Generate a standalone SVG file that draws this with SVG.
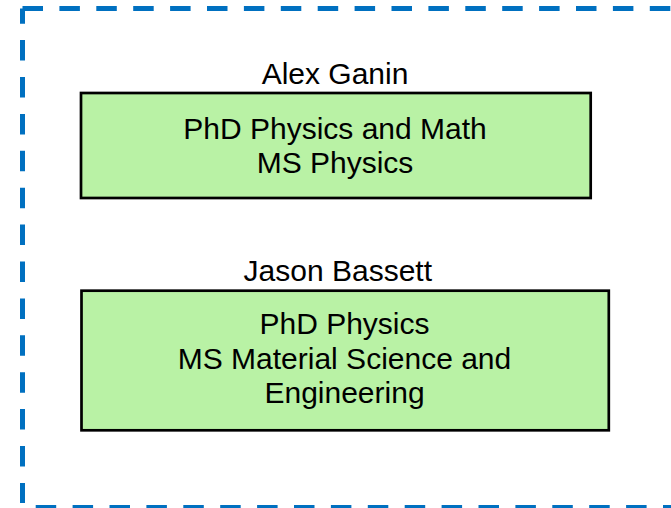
<svg xmlns="http://www.w3.org/2000/svg" width="671" height="508" viewBox="0 0 671 508">
  <style>
    .frame { fill: none; stroke: #0070C0; stroke-width: 5; stroke-dasharray: 20.5 16.4; }
    .box { fill: #B9F2A5; stroke: #000000; stroke-width: 2.7; }
    .txt { font-family: "Liberation Sans", Arial, sans-serif; font-size: 30px; fill: #000000; text-anchor: middle; }
  </style>
  <rect width="671" height="508" fill="#FFFFFF"/>
  <g id="frame">
    <path class="frame" d="M22.5,8.5 H690"/>
    <path class="frame" d="M22.5,8.5 V503" style="stroke-dashoffset:5.3"/>
    <path class="frame" d="M35.7,507.5 H690"/>
  </g>
  <g id="node-alex-ganin">
    <text class="txt" x="335" y="84">Alex Ganin</text>
    <rect class="box" x="81" y="93" width="509.7" height="105"/>
    <text class="txt" x="335" y="138.5">PhD Physics and Math</text>
    <text class="txt" x="335" y="173">MS Physics</text>
  </g>
  <g id="node-jason-bassett">
    <text class="txt" x="337.8" y="281">Jason Bassett</text>
    <rect class="box" x="81.5" y="290.7" width="527.3" height="139.6"/>
    <text class="txt" x="344.5" y="334">PhD Physics</text>
    <text class="txt" x="344.5" y="368.5">MS Material Science and</text>
    <text class="txt" x="344.5" y="403">Engineering</text>
  </g>
  <g id="connectors"></g>
</svg>
